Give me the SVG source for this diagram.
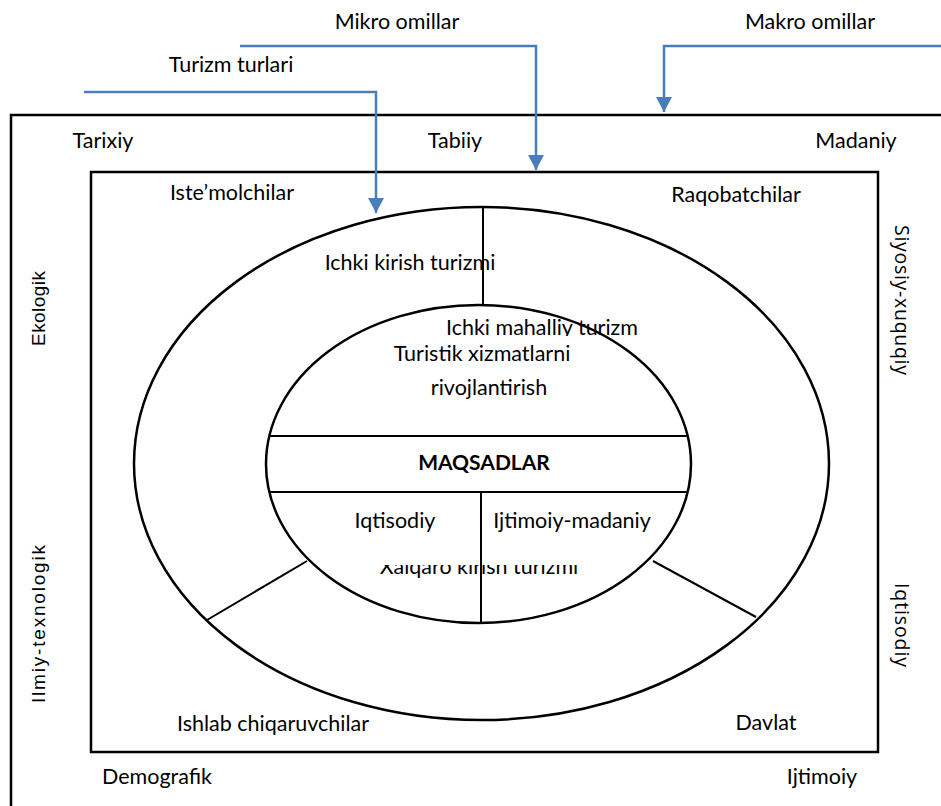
<svg xmlns="http://www.w3.org/2000/svg" width="941" height="806" viewBox="0 0 941 806">
<defs>
<style>
.t{font-family:Lato,"Open Sans","Liberation Sans",sans-serif;font-size:21.5px;fill:#000;text-anchor:middle}
.b{font-weight:bold;font-size:21px}
.v{font-family:"Liberation Sans",Arial,sans-serif;font-size:19px;fill:#000;text-anchor:middle}
.r{font-family:"Open Sans",Lato,sans-serif;font-size:19.5px;fill:#000;text-anchor:middle}
.s{fill:none;stroke:#000;stroke-width:2.5}
.l{fill:none;stroke:#000;stroke-width:2}
.c{fill:none;stroke:#4a7ebb;stroke-width:2.5}
</style>
<marker id="ah" viewBox="0 0 15 16" refX="15" refY="8" markerWidth="15" markerHeight="16" orient="auto" markerUnits="userSpaceOnUse">
<path d="M0,0 L15,8 L0,16 Z" fill="#4a7ebb"/>
</marker>
<clipPath id="cTop"><rect x="0" y="300" width="941" height="36"/></clipPath>
<clipPath id="cBot"><rect x="0" y="565" width="941" height="30"/></clipPath>
</defs>
<rect width="941" height="806" fill="#fff"/>

<g id="outer">
<rect x="11" y="115" width="940" height="700" class="s"/>
<text class="t" x="103" y="148">Tarixiy</text>
<text class="t" x="455" y="148">Tabiiy</text>
<text class="t" x="856" y="148">Madaniy</text>
<text class="t" x="157" y="784">Demografik</text>
<text class="t" x="822" y="784">Ijtimoiy</text>
<text class="v" transform="translate(45,308.5) rotate(-90)" textLength="75">Ekologik</text>
<text class="v" transform="translate(45,624) rotate(-90)" textLength="158">Ilmiy-texnologik</text>
<text class="r" transform="translate(895,300) rotate(90)" textLength="150">Siyosiy-xuquqiy</text>
<text class="r" transform="translate(895,625) rotate(90)" textLength="84">Iqtisodiy</text>
</g>

<g id="inner">
<rect x="91" y="172" width="787" height="580" class="s"/>
<text class="t" x="232" y="200">Iste’molchilar</text>
<text class="t" x="736" y="202">Raqobatchilar</text>
<text class="t" x="273" y="731">Ishlab chiqaruvchilar</text>
<text class="t" x="766" y="730">Davlat</text>
</g>

<g id="ring">
<ellipse cx="481.5" cy="463.5" rx="347.5" ry="256.5" class="s"/>
<line x1="483" y1="207" x2="483" y2="305" class="l"/>
<line x1="207" y1="620" x2="307" y2="561" class="l"/>
<line x1="653" y1="561" x2="756" y2="617" class="l"/>
<text class="t" x="410" y="270">Ichki kirish turizmi</text>
<text class="t" x="542" y="335" clip-path="url(#cTop)">Ichki mahalliy turizm</text>
<text class="t" x="479" y="574" clip-path="url(#cBot)">Xalqaro kirish turizmi</text>
</g>

<g id="core">
<ellipse cx="478.5" cy="464" rx="212.5" ry="159" class="s"/>
<line x1="270" y1="436" x2="688" y2="436" class="l"/>
<line x1="270" y1="492" x2="688" y2="492" class="l"/>
<line x1="481" y1="492" x2="481" y2="623" class="l"/>
<text class="t" x="482" y="361">Turistik xizmatlarni</text>
<text class="t" x="489" y="395">rivojlantirish</text>
<text class="t b" x="484" y="470">MAQSADLAR</text>
<text class="t" x="395" y="528">Iqtisodiy</text>
<text class="t" x="572" y="528">Ijtimoiy-madaniy</text>
</g>

<g id="labels">
<text class="t" x="397" y="29">Mikro omillar</text>
<text class="t" x="810" y="29">Makro omillar</text>
<text class="t" x="231" y="72">Turizm turlari</text>
</g>

<g id="connectors">
<polyline points="84,92 376,92 376,213" class="c" marker-end="url(#ah)"/>
<polyline points="240,46 536,46 536,170" class="c" marker-end="url(#ah)"/>
<polyline points="941,46 664,46 664,112" class="c" marker-end="url(#ah)"/>
</g>
</svg>
